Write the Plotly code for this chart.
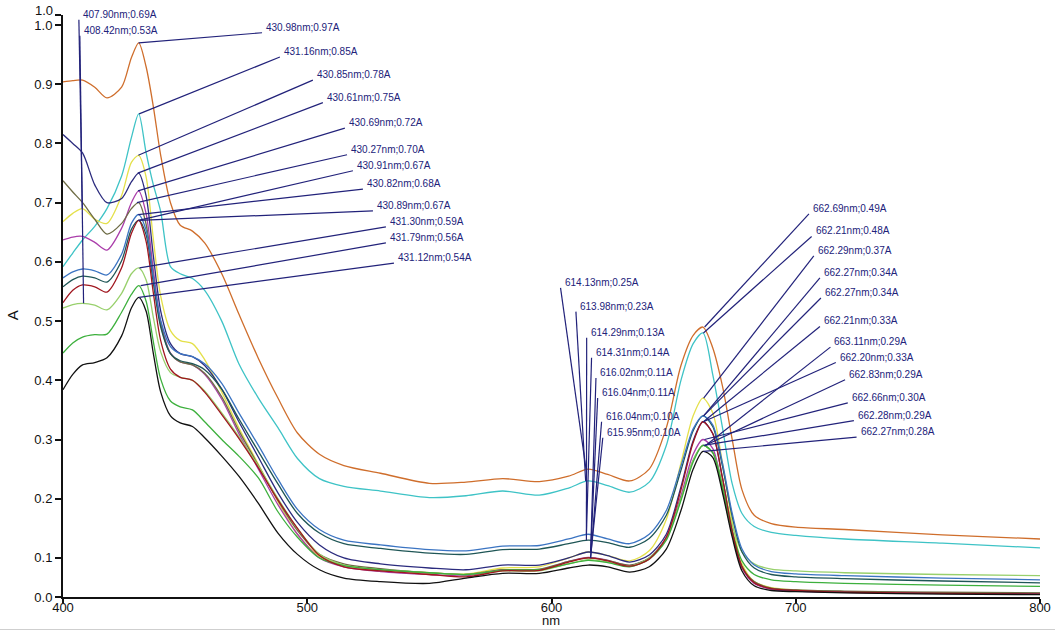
import plotly.graph_objects as go

# Wavelength grid (nm) shared by every spectrum
wavelength = [400, 404, 408, 413, 418, 424, 428, 431, 434, 437, 440, 444, 448, 453, 458, 465,
              472, 480, 488, 496, 505, 515, 530, 550, 565, 580, 595, 607, 615, 623, 632, 640,
              647, 653, 658, 662, 666, 670, 674, 678, 683, 690, 700, 720, 760, 800]

# Absorbance spectra (A)
abs_orange = [0.904, 0.906, 0.907, 0.895, 0.877, 0.895, 0.945, 0.970, 0.930, 0.862, 0.780, 0.700, 0.662, 0.652, 0.632, 0.580,
              0.512, 0.437, 0.370, 0.311, 0.275, 0.256, 0.243, 0.226, 0.228, 0.234, 0.229, 0.238, 0.250, 0.241, 0.230, 0.250,
              0.320, 0.425, 0.476, 0.490, 0.455, 0.390, 0.300, 0.215, 0.172, 0.158, 0.152, 0.148, 0.139, 0.132]
abs_cyan = [0.592, 0.615, 0.637, 0.660, 0.690, 0.745, 0.810, 0.850, 0.785, 0.730, 0.685, 0.592, 0.580, 0.572, 0.552, 0.500,
            0.428, 0.370, 0.320, 0.268, 0.234, 0.221, 0.213, 0.202, 0.205, 0.213, 0.206, 0.218, 0.230, 0.222, 0.211, 0.228,
            0.290, 0.400, 0.462, 0.480, 0.410, 0.320, 0.225, 0.175, 0.153, 0.143, 0.138, 0.132, 0.125, 0.117]
abs_yellow = [0.668, 0.682, 0.690, 0.672, 0.665, 0.712, 0.768, 0.780, 0.744, 0.638, 0.542, 0.484, 0.467, 0.462, 0.435, 0.380,
              0.320, 0.258, 0.195, 0.140, 0.103, 0.088, 0.080, 0.075, 0.073, 0.083, 0.085, 0.100, 0.110, 0.104, 0.095, 0.112,
              0.165, 0.260, 0.340, 0.370, 0.345, 0.260, 0.160, 0.090, 0.060, 0.050, 0.046, 0.043, 0.041, 0.040]
abs_navy = [0.815, 0.800, 0.784, 0.730, 0.700, 0.707, 0.735, 0.750, 0.712, 0.610, 0.517, 0.462, 0.445, 0.440, 0.425, 0.385,
            0.330, 0.270, 0.210, 0.160, 0.122, 0.100, 0.090, 0.083, 0.080, 0.088, 0.088, 0.100, 0.110, 0.104, 0.093, 0.105,
            0.140, 0.220, 0.298, 0.330, 0.310, 0.235, 0.145, 0.085, 0.058, 0.048, 0.045, 0.043, 0.041, 0.040]
abs_magenta = [0.637, 0.642, 0.643, 0.633, 0.620, 0.657, 0.700, 0.720, 0.682, 0.586, 0.499, 0.446, 0.431, 0.426, 0.410, 0.368,
               0.310, 0.250, 0.190, 0.140, 0.100, 0.085, 0.077, 0.072, 0.070, 0.080, 0.080, 0.094, 0.101, 0.096, 0.087, 0.100,
               0.135, 0.205, 0.275, 0.300, 0.285, 0.220, 0.140, 0.083, 0.057, 0.047, 0.044, 0.042, 0.040, 0.039]
abs_olive = [0.737, 0.718, 0.700, 0.672, 0.647, 0.665, 0.690, 0.700, 0.664, 0.574, 0.494, 0.445, 0.431, 0.426, 0.412, 0.372,
             0.315, 0.256, 0.197, 0.146, 0.106, 0.090, 0.082, 0.075, 0.072, 0.080, 0.081, 0.094, 0.100, 0.096, 0.088, 0.100,
             0.133, 0.200, 0.265, 0.290, 0.278, 0.215, 0.140, 0.085, 0.060, 0.049, 0.046, 0.044, 0.042, 0.041]
abs_teal = [0.558, 0.570, 0.576, 0.573, 0.566, 0.602, 0.655, 0.670, 0.646, 0.564, 0.490, 0.445, 0.433, 0.428, 0.418, 0.385,
            0.335, 0.280, 0.225, 0.175, 0.142, 0.124, 0.116, 0.108, 0.106, 0.114, 0.115, 0.124, 0.130, 0.126, 0.118, 0.133,
            0.172, 0.248, 0.315, 0.340, 0.322, 0.255, 0.170, 0.110, 0.083, 0.072, 0.068, 0.065, 0.061, 0.058]
abs_blue = [0.573, 0.583, 0.588, 0.585, 0.578, 0.613, 0.665, 0.680, 0.654, 0.574, 0.501, 0.457, 0.445, 0.440, 0.428, 0.395,
            0.345, 0.290, 0.233, 0.182, 0.148, 0.130, 0.122, 0.114, 0.112, 0.120, 0.121, 0.132, 0.140, 0.132, 0.124, 0.140,
            0.180, 0.255, 0.318, 0.340, 0.325, 0.260, 0.175, 0.115, 0.088, 0.077, 0.073, 0.070, 0.066, 0.063]
abs_red = [0.531, 0.552, 0.561, 0.558, 0.549, 0.590, 0.648, 0.670, 0.635, 0.547, 0.467, 0.419, 0.405, 0.400, 0.380, 0.342,
           0.302, 0.252, 0.198, 0.150, 0.104, 0.085, 0.078, 0.072, 0.068, 0.078, 0.079, 0.093, 0.100, 0.095, 0.086, 0.098,
           0.135, 0.215, 0.295, 0.330, 0.310, 0.235, 0.145, 0.085, 0.058, 0.048, 0.045, 0.042, 0.040, 0.039]
abs_lightgreen = [0.522, 0.528, 0.530, 0.527, 0.519, 0.547, 0.580, 0.590, 0.570, 0.506, 0.448, 0.413, 0.405, 0.400, 0.382, 0.345,
                  0.305, 0.255, 0.200, 0.150, 0.106, 0.088, 0.080, 0.075, 0.072, 0.078, 0.078, 0.090, 0.097, 0.093, 0.086, 0.100,
                  0.133, 0.200, 0.265, 0.290, 0.278, 0.225, 0.155, 0.110, 0.090, 0.081, 0.078, 0.075, 0.072, 0.070]
abs_green = [0.446, 0.463, 0.473, 0.477, 0.478, 0.515, 0.545, 0.560, 0.534, 0.465, 0.402, 0.365, 0.355, 0.350, 0.330, 0.300,
             0.272, 0.235, 0.178, 0.135, 0.100, 0.087, 0.080, 0.075, 0.072, 0.079, 0.080, 0.090, 0.096, 0.092, 0.085, 0.098,
             0.130, 0.197, 0.262, 0.290, 0.278, 0.220, 0.145, 0.095, 0.072, 0.063, 0.060, 0.057, 0.054, 0.052]
abs_black = [0.384, 0.410, 0.426, 0.430, 0.438, 0.475, 0.522, 0.540, 0.517, 0.445, 0.380, 0.340, 0.328, 0.322, 0.303, 0.272,
             0.238, 0.192, 0.142, 0.106, 0.080, 0.066, 0.060, 0.057, 0.066, 0.074, 0.074, 0.083, 0.088, 0.085, 0.076, 0.085,
             0.115, 0.180, 0.250, 0.280, 0.270, 0.210, 0.135, 0.078, 0.053, 0.045, 0.043, 0.041, 0.039, 0.038]

# Picked peaks: wavelength (nm) and absorbance (A)
peak408_nm = [407.90, 408.42]
peak408_abs = [0.69, 0.53]
peak431_nm = [430.98, 431.16, 430.85, 430.61, 430.69, 430.27, 430.91, 430.82, 430.89, 431.30, 431.79, 431.12]
peak431_abs = [0.97, 0.85, 0.78, 0.75, 0.72, 0.70, 0.67, 0.68, 0.67, 0.59, 0.56, 0.54]
peak614_nm = [614.13, 613.98, 614.29, 614.31, 616.02, 616.04, 616.04, 615.95]
peak614_abs = [0.25, 0.23, 0.13, 0.14, 0.11, 0.11, 0.10, 0.10]
peak662_nm = [662.69, 662.21, 662.29, 662.27, 662.27, 662.21, 663.11, 662.20, 662.83, 662.66, 662.28, 662.27]
peak662_abs = [0.49, 0.48, 0.37, 0.34, 0.34, 0.33, 0.29, 0.33, 0.29, 0.30, 0.29, 0.28]

# Where each peak label sits (axis units), same order as the peaks
label408_at = [(406.5, 1.009), (406.9, 0.982)]
label431_at = [(481.5, 0.987), (488.8, 0.946), (502.3, 0.907), (506.4, 0.869), (515.4, 0.826), (516.3, 0.781),
               (518.7, 0.754), (522.8, 0.723), (526.9, 0.686), (532.2, 0.659), (532.2, 0.632), (535.5, 0.598)]
label614_at = [(603.7, 0.556), (610.0, 0.516), (614.4, 0.472), (616.4, 0.438), (618.2, 0.404), (618.9, 0.370),
               (620.5, 0.330), (621.0, 0.303)]
label662_at = [(705.4, 0.681), (706.5, 0.643), (707.4, 0.610), (709.9, 0.573), (710.3, 0.539), (709.9, 0.491),
               (714.2, 0.456), (716.4, 0.430), (720.2, 0.401), (721.3, 0.362), (723.8, 0.332), (724.9, 0.304)]

# Y axis: the two ends of the axis carry their own one-decimal labels
y_lo, y_hi = 0.034, 1.017
ytick_vals = [y_lo, 0.1, 0.2, 0.3, 0.4, 0.5, 0.6, 0.7, 0.8, 0.9, 1.0, y_hi]
ytick_text = ["0.0", "0.1", "0.2", "0.3", "0.4", "0.5", "0.6", "0.7", "0.8", "0.9", "1.0", ""]
y_top_text = "1.0"
xtick_vals = [400, 500, 600, 700, 800]

spectra = [
    (abs_orange, "#CF6E2C"),
    (abs_cyan, "#3EC3C6"),
    (abs_yellow, "#E4E04A"),
    (abs_navy, "#2B2B7E"),
    (abs_magenta, "#AA3DAA"),
    (abs_olive, "#6E6C45"),
    (abs_lightgreen, "#98D06C"),
    (abs_green, "#3DB03D"),
    (abs_teal, "#1F5656"),
    (abs_blue, "#3B74C2"),
    (abs_red, "#A0161F"),
    (abs_black, "#111111"),
]

ink = "#22227A"
axis_ink = "#111111"
font_family = "Liberation Sans, Arial, sans-serif"

fig = go.Figure()
for values, color in spectra:
    fig.add_trace(go.Scatter(
        x=wavelength, y=values, mode="lines",
        line=dict(color=color, width=1.3, shape="spline", smoothing=0.8),
        showlegend=False, hoverinfo="skip",
    ))

shapes = []
annotations = []
groups = [
    (peak408_nm, peak408_abs, label408_at),
    (peak431_nm, peak431_abs, label431_at),
    (peak614_nm, peak614_abs, label614_at),
    (peak662_nm, peak662_abs, label662_at),
]
for nms, absv, spots in groups:
    for nm, a, (lx, ly) in zip(nms, absv, spots):
        shapes.append(dict(type="line", xref="x", yref="y", x0=nm, y0=a, x1=lx, y1=ly,
                           line=dict(color=ink, width=1.2)))
        annotations.append(dict(
            x=lx, y=ly, xref="x", yref="y", showarrow=False,
            text=f"{nm:.2f}nm;{a:.2f}A", xanchor="left", yanchor="bottom",
            xshift=2, yshift=-2,
            font=dict(family=font_family, size=10, color=ink),
        ))

# Label for the top end of the y axis, nudged up clear of the 1.0 label
annotations.append(dict(x=0, y=y_hi, xref="paper", yref="y", showarrow=False, text=y_top_text,
                        xanchor="right", yanchor="middle", xshift=-8, yshift=5,
                        font=dict(family=font_family, size=13, color=axis_ink)))

# Axis titles
annotations.append(dict(x=-0.052, y=0.4845, xref="paper", yref="paper", showarrow=False,
                        xanchor="center", yanchor="middle",
                        text="A", textangle=-90, font=dict(family=font_family, size=15, color=axis_ink)))
annotations.append(dict(x=0.4995, y=-0.041, xref="paper", yref="paper", showarrow=False,
                        xanchor="center", yanchor="middle", borderpad=0,
                        text="nm", font=dict(family=font_family, size=13, color=axis_ink)))

# Thin grey frame rule along the bottom of the page
shapes.append(dict(type="line", xref="paper", yref="paper", x0=-0.07, x1=1.02, y0=-0.0565, y1=-0.0565,
                   line=dict(color="#CFCFCF", width=2)))

fig.update_layout(
    width=1055, height=630,
    margin=dict(l=63, r=15, t=15, b=33, autoexpand=False),
    paper_bgcolor="white", plot_bgcolor="white",
    font=dict(family=font_family, size=13, color=axis_ink),
    shapes=shapes, annotations=annotations,
    xaxis=dict(range=[400, 800], tickvals=xtick_vals, ticks="outside", ticklen=4, tickwidth=1.5,
               tickcolor=axis_ink, showline=True, linecolor=axis_ink, linewidth=2,
               ticklabelstandoff=-7,
               showgrid=False, zeroline=False, tickfont=dict(size=13)),
    yaxis=dict(range=[y_lo, y_hi], tickvals=ytick_vals, ticktext=ytick_text, ticks="outside",
               ticklen=6, tickwidth=1.5, tickcolor=axis_ink, showline=True, linecolor=axis_ink,
               linewidth=2, showgrid=False, zeroline=False, tickfont=dict(size=13)),
)

fig.write_html("out.html")
